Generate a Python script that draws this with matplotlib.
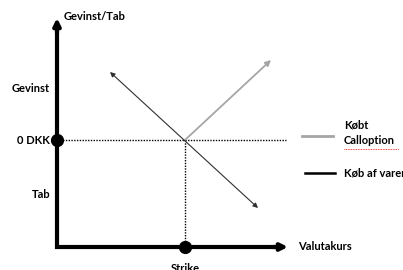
import matplotlib.pyplot as plt

# diagram values (x = valutakurs, y = gevinst/tab), origin at axis corner
axis_end_x = 23.1
axis_end_y = 22.9
strike = 12.8
zero_dkk = 10.7

call_x = [strike, 21.4]
call_y = [zero_dkk, 18.7]
varer_x = [5.3, 20.1]
varer_y = [17.5, 3.9]
dotted_end_x = 22.9

y_labels = ['Gevinst', '0 DKK', 'Tab']
y_label_pos = [15.8, zero_dkk, 5.2]
legend_labels = ['Købt\nCalloption', 'Køb af varer']

plt.rcParams['font.family'] = ['Lato', 'DejaVu Sans']
plt.rcParams['font.weight'] = 'bold'

fig = plt.figure(figsize=(4.03, 2.70), dpi=100)
ax = fig.add_axes([0, 0, 1, 1])
ax.set_xlim(-5.7, 34.6)
ax.set_ylim(-2.3, 24.7)
ax.axis('off')

# axes (L shape) with arrowheads
ax.plot([0, 0, axis_end_x - 1], [axis_end_y - 1, 0, 0], color='black', lw=3,
        solid_joinstyle='miter', solid_capstyle='butt')
ax.annotate('', xy=(0, axis_end_y), xytext=(0, axis_end_y - 1.5),
            arrowprops=dict(arrowstyle='-|>', lw=3, color='black', mutation_scale=10, shrinkA=0, shrinkB=0))
ax.annotate('', xy=(axis_end_x, 0), xytext=(axis_end_x - 1.5, 0),
            arrowprops=dict(arrowstyle='-|>', lw=3, color='black', mutation_scale=10, shrinkA=0, shrinkB=0))

# dotted guides
ax.plot([0, dotted_end_x], [zero_dkk, zero_dkk], color='black', lw=1, ls=(0, (1, 1)))
ax.plot([strike, strike], [0, zero_dkk], color='black', lw=1, ls=(0, (1, 1)))

# dots
ax.plot([0], [zero_dkk], 'o', color='black', ms=8.5, clip_on=False)
ax.plot([strike], [0], 'o', color='black', ms=8.5, clip_on=False)

# payoff lines
ax.annotate('', xy=(call_x[1], call_y[1]), xytext=(call_x[0], call_y[0]),
            arrowprops=dict(arrowstyle='-|>', lw=1.3, color='#a6a6a6', mutation_scale=8, shrinkA=0, shrinkB=0))
ax.annotate('', xy=(varer_x[1], varer_y[1]), xytext=(varer_x[0], varer_y[0]),
            arrowprops=dict(arrowstyle='<|-|>', lw=0.8, color='#303030', mutation_scale=7, shrinkA=0, shrinkB=0))

# labels
fs = 8
ax.text(0.7, axis_end_y + 0.2, 'Gevinst/Tab', fontsize=fs, va='center', ha='left')
for lab, yp in zip(y_labels, y_label_pos):
    ax.text(-0.7, yp, lab, fontsize=fs, va='center', ha='right')
ax.text(24.1, 0, 'Valutakurs', fontsize=fs, va='center', ha='left')
ax.text(strike, -2.1, 'Strike', fontsize=fs, va='center', ha='center')

# legend
ax.plot([24.5, 27.6], [11.1, 11.1], color='#a6a6a6', lw=2)
ax.text(28.7, 12.2, 'Købt', fontsize=fs, va='center', ha='left')
ax.text(28.7, 10.6, 'Calloption', fontsize=fs, va='center', ha='left')
ax.plot([28.7, 34.2], [9.8, 9.8], color='red', lw=0.6, ls=(0, (1, 1)))
ax.plot([24.8, 27.8], [7.4, 7.4], color='black', lw=1.8)
ax.text(28.7, 7.4, legend_labels[1], fontsize=fs, va='center', ha='left')

fig.savefig('out.png', dpi=100)
